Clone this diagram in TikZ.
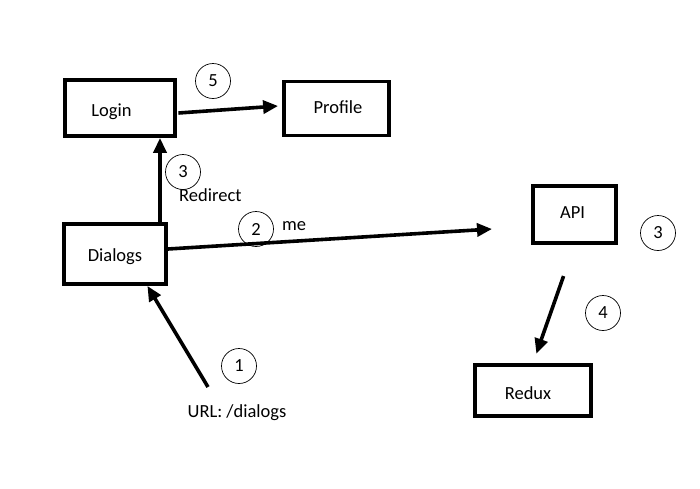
\documentclass[tikz,border=0pt]{standalone}
\usepackage{fontspec}
\setmainfont{Carlito}
\usetikzlibrary{arrows.meta}
\begin{document}
\begin{tikzpicture}[x=1pt,y=-1pt,
  every node/.style={font=\fontsize{18.5}{21}\selectfont},
  box/.style={draw, line width=3.8pt, inner sep=0pt},
  num/.style={draw, circle, line width=0.7pt, minimum size=35pt, inner sep=0pt},
  txt/.style={inner sep=0pt},
  conn/.style={line width=3.6pt, -{Triangle[length=15pt,width=13pt]}}
]
\useasboundingbox (0,0) rectangle (700,488);
% boxes
\node[box, minimum width=110pt, minimum height=56pt, label={[shift={(-8.5,4)}]center:Login}] (login) at (120,108) {};
\node[box, minimum width=105pt, minimum height=54pt, label={[shift={(1.5,-1.5)}]center:Profile}] (profile) at (336.5,108.5) {};
\node[box, minimum width=102pt, minimum height=60pt, label={[shift={(0,3)}]center:Dialogs}] (dialogs) at (115,254) {};
\node[box, minimum width=83pt, minimum height=57pt, label={[shift={(-2,-1.5)}]center:API}] (api) at (574.5,214.5) {};
\node[box, minimum width=116pt, minimum height=51pt, label={[shift={(-5,2.5)}]center:Redux}] (redux) at (533,390.5) {};
% numbered circles
\node[num] (n5) at (213,81) {5};
\node[num] (n3a) at (183,172) {3};
\node[num] (n2) at (256,229) {2};
\node[num] (n1) at (239,366) {1};
\node[num] (n3b) at (658,233) {3};
\node[num] (n4) at (603,313) {4};
% texts
\node[txt, anchor=west] (redirect) at (179,195) {Redirect};
\node[txt, anchor=west] (me) at (282,226) {me};
\node[txt] (url) at (237,413) {URL: /dialogs};
% free ends
\coordinate (ustart) at (208,387);
\coordinate (apiin) at (492,229);
% connectors
\draw[conn] (ustart) -- ([xshift=-20.5pt]dialogs.south east);
\draw[conn] ([xshift=45pt]dialogs.north) -- ([xshift=40pt]login.south);
\draw[conn] ([yshift=5pt]dialogs.east) -- (apiin);
\draw[conn] ([xshift=1.5pt,yshift=-5pt]login.east) -- ([xshift=-4pt,yshift=2.5pt]profile.west);
\draw[conn, shorten <=33pt, shorten >=10pt] (api.south) -- (redux.north);
\end{tikzpicture}
\end{document}
